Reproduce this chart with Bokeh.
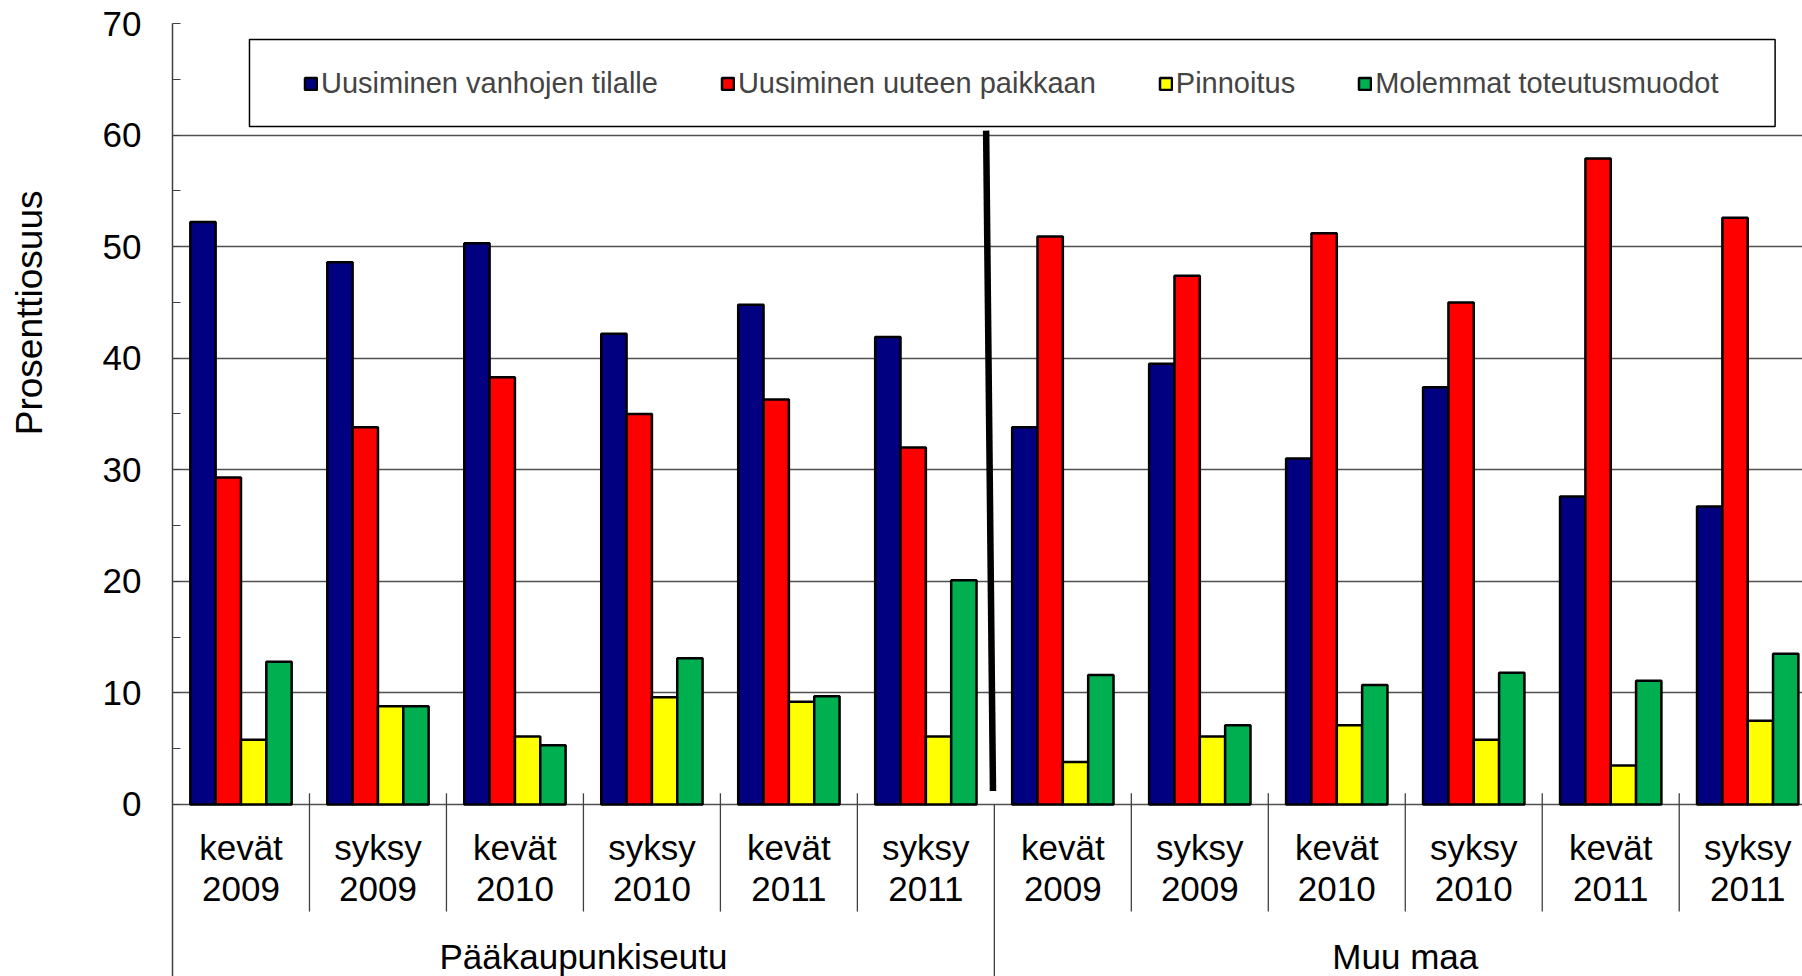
from bokeh.plotting import figure
from bokeh.models import Range1d, FixedTicker, Legend, LegendItem, Title, BoxAnnotation
from bokeh.core.properties import value
from bokeh.embed import file_html
from bokeh.resources import INLINE

# ---- data ----
seasons = ["kevät", "syksy", "kevät", "syksy", "kevät", "syksy",
           "kevät", "syksy", "kevät", "syksy", "kevät", "syksy"]
years = ["2009", "2009", "2010", "2010", "2011", "2011",
         "2009", "2009", "2010", "2010", "2011", "2011"]
regions = ["Pääkaupunkiseutu", "Muu maa"]
series_names = ["Uusiminen vanhojen tilalle", "Uusiminen uuteen paikkaan",
                "Pinnoitus", "Molemmat toteutusmuodot"]
vanhojen_tilalle = [52.2, 48.6, 50.3, 42.2, 44.8, 41.9, 33.8, 39.5, 31.0, 37.4, 27.6, 26.7]
uuteen_paikkaan = [29.3, 33.8, 38.3, 35.0, 36.3, 32.0, 50.9, 47.4, 51.2, 45.0, 57.9, 52.6]
pinnoitus = [5.8, 8.8, 6.1, 9.6, 9.2, 6.1, 3.8, 6.1, 7.1, 5.8, 3.5, 7.5]
molemmat = [12.8, 8.8, 5.3, 13.1, 9.7, 20.1, 11.6, 7.1, 10.7, 11.8, 11.1, 13.5]
y_ticks = [0, 10, 20, 30, 40, 50, 60, 70]
y_minor = [5, 15, 25, 35, 45, 55, 65]
y_title = "Prosenttiosuus"

series = [vanhojen_tilalle, uuteen_paikkaan, pinnoitus, molemmat]
colors = ["#000080", "#FF0000", "#FFFF00", "#00B050"]

FONT = "Liberation Sans"
n = len(seasons)
per_region = n // len(regions)
centers = [i + 0.5 for i in range(n)]
BAR_W = 0.185
Y_BOTTOM = -15.42

p = figure(width=1802, height=976, output_backend="svg", toolbar_location=None,
           x_range=Range1d(0, 11.9), y_range=Range1d(Y_BOTTOM, 70),
           x_axis_location=None, min_border_left=172, min_border_right=0,
           min_border_top=23, min_border_bottom=0, outline_line_color=None)
p.background_fill_color = "white"
p.border_fill_color = "white"

# y axis
p.yaxis.ticker = FixedTicker(ticks=y_ticks, minor_ticks=y_minor)
p.yaxis.major_tick_in = 8
p.yaxis.major_tick_out = 0
p.yaxis.minor_tick_in = 8
p.yaxis.minor_tick_out = 0
p.yaxis.axis_line_color = "#404040"
p.yaxis.axis_line_width = 1.5
p.yaxis.major_tick_line_color = "#404040"
p.yaxis.minor_tick_line_color = "#404040"
p.yaxis.major_label_standoff = 31
p.yaxis.major_label_text_font = FONT
p.yaxis.major_label_text_font_size = "35px"
p.yaxis.major_label_text_color = "black"
# spacer between tick labels and the vertical title
p.yaxis.axis_label = " "
p.yaxis.axis_label_text_font_size = "10px"
p.yaxis.axis_label_standoff = 31

p.xgrid.visible = False
p.ygrid.ticker = FixedTicker(ticks=y_ticks)
p.ygrid.grid_line_color = "#505050"
p.ygrid.grid_line_width = 1.5

# bars
renderers = []
for k, (vals, col) in enumerate(zip(series, colors)):
    xs = [c + (k - 1.5) * BAR_W for c in centers]
    r = p.vbar(x=xs, top=vals, bottom=0, width=BAR_W, fill_color=col,
               line_color="black", line_width=2.5)
    renderers.append(r)

# category separators
short_b = [i for i in range(1, n) if i % per_region != 0]
p.segment(x0=short_b, y0=[1.0] * len(short_b), x1=short_b, y1=[-9.6] * len(short_b),
          line_color="#404040", line_width=1.3)
long_b = [i for i in range(1, n) if i % per_region == 0]
p.segment(x0=long_b, y0=[0] * len(long_b), x1=long_b, y1=[Y_BOTTOM] * len(long_b),
          line_color="#404040", line_width=1.3)

# thick divider between regions
p.segment(x0=[b - 0.06 for b in long_b], y0=[60.4] * len(long_b),
          x1=[b - 0.01 for b in long_b], y1=[1.2] * len(long_b),
          line_color="black", line_width=6.5)

# category labels
p.text(x=centers, y=[-3.85] * n, text=seasons, text_font=value(FONT),
       text_font_size="35px", text_align="center", text_baseline="middle", text_color="black")
p.text(x=centers, y=[-7.62] * n, text=years, text_font=value(FONT),
       text_font_size="35px", text_align="center", text_baseline="middle", text_color="black")
region_centers = [per_region * (j + 0.5) for j in range(len(regions))]
p.text(x=region_centers, y=[-13.6] * len(regions), text=regions, text_font=value(FONT),
       text_font_size="35px", text_align="center", text_baseline="middle", text_color="black")

# legend frame
legend_box = BoxAnnotation(left=0.562, right=11.70, bottom=60.77, top=68.57,
                           fill_color="white", fill_alpha=1.0,
                           line_color="black", line_alpha=1.0, line_width=1.5)
p.add_layout(legend_box)

legend = Legend(items=[LegendItem(label=nm, renderers=[r]) for nm, r in zip(series_names, renderers)],
                orientation="horizontal", location=(131, 876), margin=0, padding=10,
                spacing=62, glyph_width=15, glyph_height=15, label_standoff=3,
                label_text_font=FONT, label_text_font_size="29px",
                border_line_color=None, background_fill_alpha=0.0)
p.add_layout(legend, "center")

t = Title(text=y_title, align="right", offset=167, text_font=FONT,
          text_font_size="37px", text_font_style="normal", text_color="black")
p.add_layout(t, "left")

open("out.html", "w").write(file_html(p, INLINE))
